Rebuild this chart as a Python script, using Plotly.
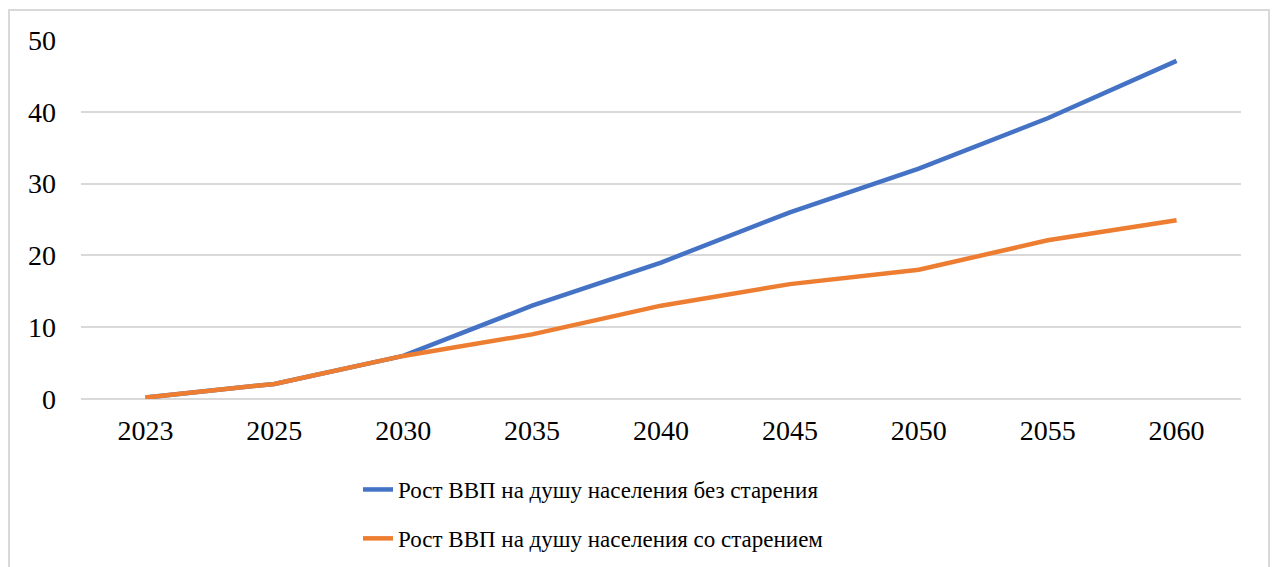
import plotly.graph_objects as go

years = ["2023", "2025", "2030", "2035", "2040", "2045", "2050", "2055", "2060"]
no_aging = [0.2, 2.1, 6.0, 13.0, 19.0, 26.0, 32.1, 39.1, 47.1]
with_aging = [0.2, 2.1, 6.0, 9.0, 13.0, 16.0, 18.0, 22.1, 24.9]
name_no_aging = "Рост ВВП на душу населения без старения"
name_with_aging = "Рост ВВП на душу населения со старением"
y_ticks = [0, 10, 20, 30, 40, 50]

FONT = "Liberation Serif, Times New Roman, serif"

fig = go.Figure()
fig.add_trace(go.Scatter(x=years, y=no_aging, mode="lines", name=name_no_aging,
                         legendgroup="a",
                         line=dict(color="#4472C4", width=4.5)))
fig.add_trace(go.Scatter(x=years, y=with_aging, mode="lines", name=name_with_aging,
                         legendgroup="b",
                         line=dict(color="#ED7D31", width=4.5)))

L, R, T, B = 81, 32, 40, 168
W, H = 1273, 567
pw, ph = W - L - R, H - T - B

def px_x(v):
    return (v - L) / pw

def px_y(v):
    return (H - B - v) / ph

fig.add_shape(type="rect", xref="paper", yref="paper",
              x0=px_x(9), x1=px_x(1269), y0=px_y(600), y1=px_y(10),
              line=dict(color="#D9D9D9", width=2), fillcolor="rgba(0,0,0,0)", layer="below")

fig.update_layout(
    width=W, height=H,
    margin=dict(l=L, r=R, t=T, b=B, autoexpand=False),
    paper_bgcolor="white", plot_bgcolor="white",
    font=dict(family=FONT, size=28, color="#000000"),
    showlegend=True,
    legend=dict(orientation="v", xref="container", yref="container",
                x=358 / W, xanchor="left", y=1 - 468 / H, yanchor="top",
                font=dict(family=FONT, size=23, color="#000000"),
                tracegroupgap=16, itemwidth=30, bgcolor="rgba(0,0,0,0)"),
    xaxis=dict(type="category", range=[-0.5, 8.5], showgrid=False, zeroline=False,
               showline=False, ticks="", ticklabelstandoff=12,
               tickfont=dict(family=FONT, size=28, color="#000000")),
    yaxis=dict(range=[0, 50], tickvals=y_ticks, showgrid=True, gridcolor="#D9D9D9",
               gridwidth=1.5, zeroline=True, zerolinecolor="#D9D9D9", zerolinewidth=1.5,
               showline=False, ticks="",
               ticklabelstandoff=24,
               tickfont=dict(family=FONT, size=28, color="#000000")),
)

fig.write_html("out.html", config={"displayModeBar": False},
               post_script="document.body.style.margin='0';document.body.style.overflow='hidden';")
